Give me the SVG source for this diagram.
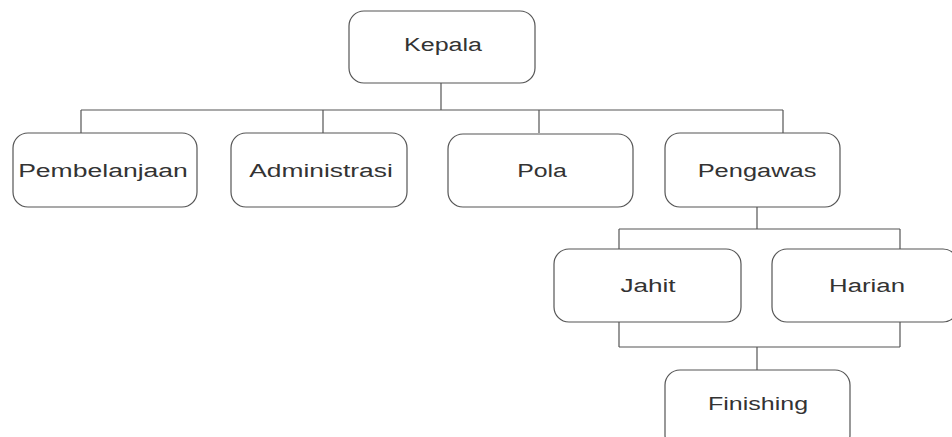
<svg xmlns="http://www.w3.org/2000/svg" width="952" height="437" viewBox="0 0 952 437">
<style>
.box{fill:#fff;stroke:#555;stroke-width:1.2}
.lbl{font-family:"Liberation Sans",Arial,sans-serif;font-size:18px;fill:#333;text-anchor:middle}
.con{fill:none;stroke:#555;stroke-width:1.2}
</style>
<rect width="952" height="437" fill="#fff"/>
<g id="connectors">
<path class="con" d="M441 83V110M81 110H783M81 110V133M323 110V133M539 110V133M783 110V133"/>
<path class="con" d="M757 207V229M619 229H900M619 229V249M900 229V249"/>
<path class="con" d="M619 322V347M900 322V347M619 347H900M757 347V370"/>
</g>
<g id="kepala"><rect class="box" x="349" y="11" width="186" height="72" rx="15"/><text class="lbl" transform="translate(443 51) scale(1.38 1)" textLength="56.5" lengthAdjust="spacingAndGlyphs">Kepala</text></g>
<g id="pembelanjaan"><rect class="box" x="13" y="133" width="184" height="74" rx="15"/><text class="lbl" transform="translate(103 177) scale(1.38 1)" textLength="123" lengthAdjust="spacingAndGlyphs">Pembelanjaan</text></g>
<g id="administrasi"><rect class="box" x="231" y="133" width="176" height="74" rx="15"/><text class="lbl" transform="translate(321 177) scale(1.38 1)" textLength="104" lengthAdjust="spacingAndGlyphs">Administrasi</text></g>
<g id="pola"><rect class="box" x="448" y="134" width="185" height="73" rx="15"/><text class="lbl" transform="translate(542 177) scale(1.38 1)" textLength="36" lengthAdjust="spacingAndGlyphs">Pola</text></g>
<g id="pengawas"><rect class="box" x="665" y="133" width="175" height="74" rx="15"/><text class="lbl" transform="translate(757 177) scale(1.38 1)" textLength="86" lengthAdjust="spacingAndGlyphs">Pengawas</text></g>
<g id="jahit"><rect class="box" x="554" y="249" width="187" height="73" rx="15"/><text class="lbl" transform="translate(648 292) scale(1.38 1)" textLength="40" lengthAdjust="spacingAndGlyphs">Jahit</text></g>
<g id="harian"><rect class="box" x="772" y="249" width="186" height="73" rx="15"/><text class="lbl" transform="translate(867 292) scale(1.38 1)" textLength="55" lengthAdjust="spacingAndGlyphs">Harian</text></g>
<g id="finishing"><rect class="box" x="665" y="370" width="185" height="80" rx="15"/><text class="lbl" transform="translate(758 410) scale(1.38 1)" textLength="72.5" lengthAdjust="spacingAndGlyphs">Finishing</text></g>
</svg>
